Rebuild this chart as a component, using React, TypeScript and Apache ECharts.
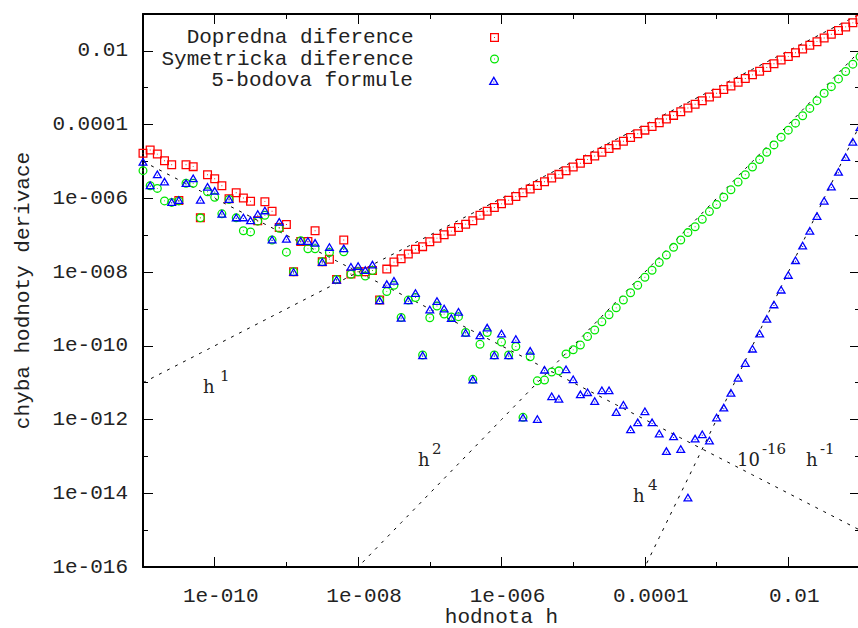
import React, { useEffect, useRef } from 'react';
import * as echarts from 'echarts';

// log10 of step h (x values), 10 points per decade
const hLog10 = [
  -11, -10.9, -10.8, -10.7, -10.6, -10.5, -10.4, -10.3, -10.2, -10.1,
  -10, -9.9, -9.8, -9.7, -9.6, -9.5, -9.4, -9.3, -9.2, -9.1,
  -9, -8.9, -8.8, -8.7, -8.6, -8.5, -8.4, -8.3, -8.2, -8.1,
  -8, -7.9, -7.8, -7.7, -7.6, -7.5, -7.4, -7.3, -7.2, -7.1,
  -7, -6.9, -6.8, -6.7, -6.6, -6.5, -6.4, -6.3, -6.2, -6.1,
  -6, -5.9, -5.8, -5.7, -5.6, -5.5, -5.4, -5.3, -5.2, -5.1,
  -5, -4.9, -4.8, -4.7, -4.6, -4.5, -4.4, -4.3, -4.2, -4.1,
  -4, -3.9, -3.8, -3.7, -3.6, -3.5, -3.4, -3.3, -3.2, -3.1,
  -3, -2.9, -2.8, -2.7, -2.6, -2.5, -2.4, -2.3, -2.2, -2.1,
  -2, -1.9, -1.8, -1.7, -1.6, -1.5, -1.4, -1.3, -1.2, -1.1,
  -1,
];

// log10 of the derivative error
const forwardLog10 = [
  -4.78, -4.69, -4.80, -4.98, -5.09, -6.06, -5.09, -5.14, -6.53, -5.36,
  -5.47, -5.66, -6.01, -5.85, -5.99, -6.08, -6.61, -6.09, -6.35, -6.79,
  -6.71, -7.99, -7.17, -7.17, -6.88, -7.72, -7.65, -8.20, -7.13, -8.05,
  -7.99, -7.99, -7.96, -8.76, -7.92, -7.73, -7.64, -7.51, -7.38, -7.31,
  -7.18, -7.08, -6.99, -6.89, -6.79, -6.70, -6.61, -6.46, -6.35, -6.25,
  -6.15, -6.05, -5.95, -5.85, -5.75, -5.65, -5.55, -5.45, -5.35, -5.25,
  -5.15, -5.05, -4.95, -4.85, -4.75, -4.65, -4.55, -4.45, -4.35, -4.25,
  -4.15, -4.05, -3.95, -3.85, -3.75, -3.65, -3.55, -3.45, -3.35, -3.25,
  -3.15, -3.05, -2.95, -2.85, -2.75, -2.65, -2.55, -2.45, -2.35, -2.25,
  -2.15, -2.05, -1.95, -1.85, -1.75, -1.65, -1.55, -1.45, -1.35, -1.24,
  -1.15,
];

const symmetricLog10 = [
  -5.25, -5.66, -5.73, -6.07, -6.11, -6.07, -5.59, -5.59, -6.53, -5.82,
  -5.97, -6.42, -6.03, -6.53, -6.88, -6.91, -6.62, -6.46, -7.13, -6.81,
  -7.46, -7.99, -7.15, -7.37, -7.37, -7.72, -7.47, -8.20, -7.45, -8.06,
  -7.99, -8.11, -7.96, -8.76, -8.53, -8.36, -9.23, -8.76, -8.69, -10.25,
  -9.24, -8.92, -9.14, -9.22, -9.21, -9.64, -10.91, -9.96, -9.64, -10.25,
  -9.90, -10.25, -10.02, -11.94, -10.30, -10.95, -10.93, -10.71, -10.68, -10.22,
  -10.11, -9.98, -9.75, -9.57, -9.35, -9.16, -8.97, -8.76, -8.56, -8.36,
  -8.14, -7.95, -7.74, -7.54, -7.33, -7.13, -6.93, -6.77, -6.57, -6.36,
  -6.17, -5.97, -5.77, -5.56, -5.36, -5.15, -4.95, -4.75, -4.55, -4.34,
  -4.15, -3.96, -3.76, -3.56, -3.35, -3.15, -2.97, -2.76, -2.56, -2.36,
  -2.16,
];

const fivePointLog10 = [
  -5.00, -5.64, -5.34, -5.54, -6.09, -6.04, -5.58, -5.45, -6.03, -5.68,
  -5.79, -6.41, -6.01, -6.51, -6.51, -6.59, -6.42, -6.32, -7.11, -6.63,
  -7.09, -7.99, -7.15, -7.15, -7.20, -7.72, -7.31, -8.20, -7.35, -7.85,
  -7.83, -7.94, -7.79, -8.76, -8.32, -8.23, -9.23, -8.76, -8.56, -10.25,
  -9.01, -8.78, -8.98, -9.24, -9.07, -9.64, -10.91, -9.71, -9.50, -10.25,
  -9.66, -10.25, -9.81, -11.94, -10.13, -11.98, -10.64, -11.36, -11.43, -10.63,
  -10.90, -11.31, -11.25, -11.49, -11.20, -11.20, -11.79, -11.59, -12.26, -12.07,
  -11.77, -12.07, -12.37, -12.85, -12.45, -12.79, -14.11, -12.51, -12.39, -12.56,
  -11.94, -11.67, -11.27, -10.86, -10.46, -10.07, -9.66, -9.26, -8.87, -8.47,
  -8.07, -7.67, -7.27, -6.87, -6.47, -6.06, -5.67, -5.27, -4.87, -4.46,
  -4.06,
];

const seriesNames = ['Dopredna diference', 'Symetricka diference', '5-bodova formule'];
const seriesColors = ['#ff0000', '#00e600', '#0000ff'];

const xMajorTicks = [-10, -8, -6, -4, -2];
const xMinorTicks = [-9, -7, -5, -3];
const xTickLabels = ['1e-010', '1e-008', '1e-006', '0.0001', '0.01'];
const yMajorTicks = [-16, -14, -12, -10, -8, -6, -4, -2];
const yMinorTicks = [-15, -13, -11, -9, -7, -5, -3];
const yTickLabels = ['1e-016', '1e-014', '1e-012', '1e-010', '1e-008', '1e-006', '0.0001', '0.01'];

// reference guides: error = 10^c * h^p
const refPowers = [1, 2, 4, -1];
const refScaleLog10 = [0, 0, 0, -16];

const MONO = '"Liberation Mono", "DejaVu Sans Mono", monospace';
const SERIF = '"DejaVu Serif", "Liberation Serif", serif';
const FS = 21;

const SYM_SQUARE = 'path://M0,0H10V10H0Z M1.4,1.4V8.6H8.6V1.4Z M4.5,4.5H5.5V5.5H4.5Z';
const SYM_CIRCLE = 'path://M5,0A5,5,0,1,1,5,10A5,5,0,1,1,5,0Z M5,1.4A3.6,3.6,0,1,0,5,8.6A3.6,3.6,0,1,0,5,1.4Z M4.5,4.5H5.5V5.5H4.5Z';
const SYM_TRI = 'path://M5,0L10,8.66L0,8.66Z M5,2.6L2.25,7.36L7.75,7.36Z M4.5,5.2H5.5V6.2H4.5Z';

function fmt(ticks: number[], labels: string[]) {
  return (v: number) => {
    const i = ticks.indexOf(Math.round(v));
    return i >= 0 ? labels[i] : '';
  };
}

function makeAxis(kind: 'x' | 'y', position: string, major: boolean, main: boolean) {
  const isX = kind === 'x';
  const ticks = isX ? (major ? xMajorTicks : xMinorTicks) : (major ? yMajorTicks : yMinorTicks);
  const ax: any = {
    type: 'value',
    gridIndex: 0,
    position,
    min: isX ? -11 : -16,
    max: -1,
    splitLine: { show: false },
    axisLine: { show: major, onZero: false, lineStyle: { color: '#000', width: 2 } },
    axisTick: {
      show: true,
      inside: true,
      length: major ? 10 : 5,
      customValues: ticks,
      lineStyle: { color: '#000', width: 1 },
    },
    axisLabel: { show: false },
  };
  if (main) {
    ax.axisLabel = {
      show: true,
      customValues: ticks,
      formatter: isX ? fmt(xMajorTicks, xTickLabels) : fmt(yMajorTicks, yTickLabels),
      fontFamily: MONO,
      fontSize: FS,
      lineHeight: 18,
      color: '#222',
      margin: isX ? 20 : 15,
      padding: isX ? [0, 0, 0, 12] : 0,
    };
    ax.name = isX ? 'hodnota h' : 'chyba hodnoty derivace';
    ax.nameLocation = 'middle';
    ax.nameGap = isX ? 41 : 111;
    ax.nameRotate = isX ? 0 : 90;
    ax.nameMoveOverlap = false;
    ax.nameTextStyle = { fontFamily: MONO, fontSize: FS, color: '#222', lineHeight: 18 };
  }
  return ax;
}

function makeLegend(i: number, top: number) {
  return {
    data: [seriesNames[i]],
    orient: 'vertical',
    align: 'right',
    right: 359,
    top,
    padding: 0,
    itemWidth: 82,
    itemHeight: 9,
    selectedMode: false,
    textStyle: { fontFamily: MONO, fontSize: FS, color: '#222', padding: [0, 35, 0, 0] },
  };
}

function txt(text: string, x: number, y: number, size: number) {
  return {
    type: 'text',
    x,
    y,
    silent: true,
    style: {
      text,
      fill: '#222',
      font: `${size}px ${SERIF}`,
      align: 'left',
      verticalAlign: 'middle',
    },
  };
}

export default function App() {
  const ref = useRef<HTMLDivElement>(null);

  useEffect(() => {
    if (!ref.current) return;
    const chart = echarts.init(ref.current, undefined, { renderer: 'svg' });

    const refSeries = refPowers.map((p, i) => ({
      type: 'line',
      name: 'ref' + i,
      xAxisIndex: 0,
      yAxisIndex: 0,
      data: hLog10.map((x) => [x, p * x + refScaleLog10[i]]),
      showSymbol: false,
      symbol: 'none',
      silent: true,
      clip: true,
      z: 1,
      lineStyle: { color: '#000', width: 1, type: [3, 6] },
    }));

    const pointSets = [forwardLog10, symmetricLog10, fivePointLog10];
    const symbols = [SYM_SQUARE, SYM_CIRCLE, SYM_TRI];
    const sizes: any[] = [9, 9, [10, 8.5]];
    const scatterSeries = pointSets.map((vals, i) => ({
      type: 'scatter',
      name: seriesNames[i],
      xAxisIndex: 0,
      yAxisIndex: 0,
      data: hLog10.map((x, k) => [x, vals[k]]),
      symbol: symbols[i],
      symbolSize: sizes[i],
      clip: false,
      z: 3 + i,
      itemStyle: { color: seriesColors[i], opacity: 1 },
    }));

    chart.setOption({
      animation: false,
      grid: { left: 143, top: 14, width: 717, height: 553, containLabel: false, outerBoundsMode: 'none' },
      xAxis: [
        makeAxis('x', 'bottom', true, true),
        makeAxis('x', 'bottom', false, false),
        makeAxis('x', 'top', true, false),
        makeAxis('x', 'top', false, false),
      ],
      yAxis: [
        makeAxis('y', 'left', true, true),
        makeAxis('y', 'left', false, false),
        makeAxis('y', 'right', true, false),
        makeAxis('y', 'right', false, false),
      ],
      legend: [makeLegend(0, 27), makeLegend(1, 48.5), makeLegend(2, 70)],
      graphic: [
        txt('h', 203, 386, 18),
        txt('1', 220, 376, 15),
        txt('h', 418, 459, 18),
        txt('2', 432, 449, 15),
        txt('h', 633, 495, 18),
        txt('4', 648, 485, 15),
        txt('10', 737, 459, 18),
        txt('-16', 762, 449, 15),
        txt('h', 806, 459, 18),
        txt('-1', 820, 449, 15),
      ],
      series: [...refSeries, ...scatterSeries],
    });

    return () => chart.dispose();
  }, []);

  return (
    <div
      ref={ref}
      style={{ position: 'absolute', left: 0, top: 0, width: 858, height: 628, background: '#fff' }}
    />
  );
}
